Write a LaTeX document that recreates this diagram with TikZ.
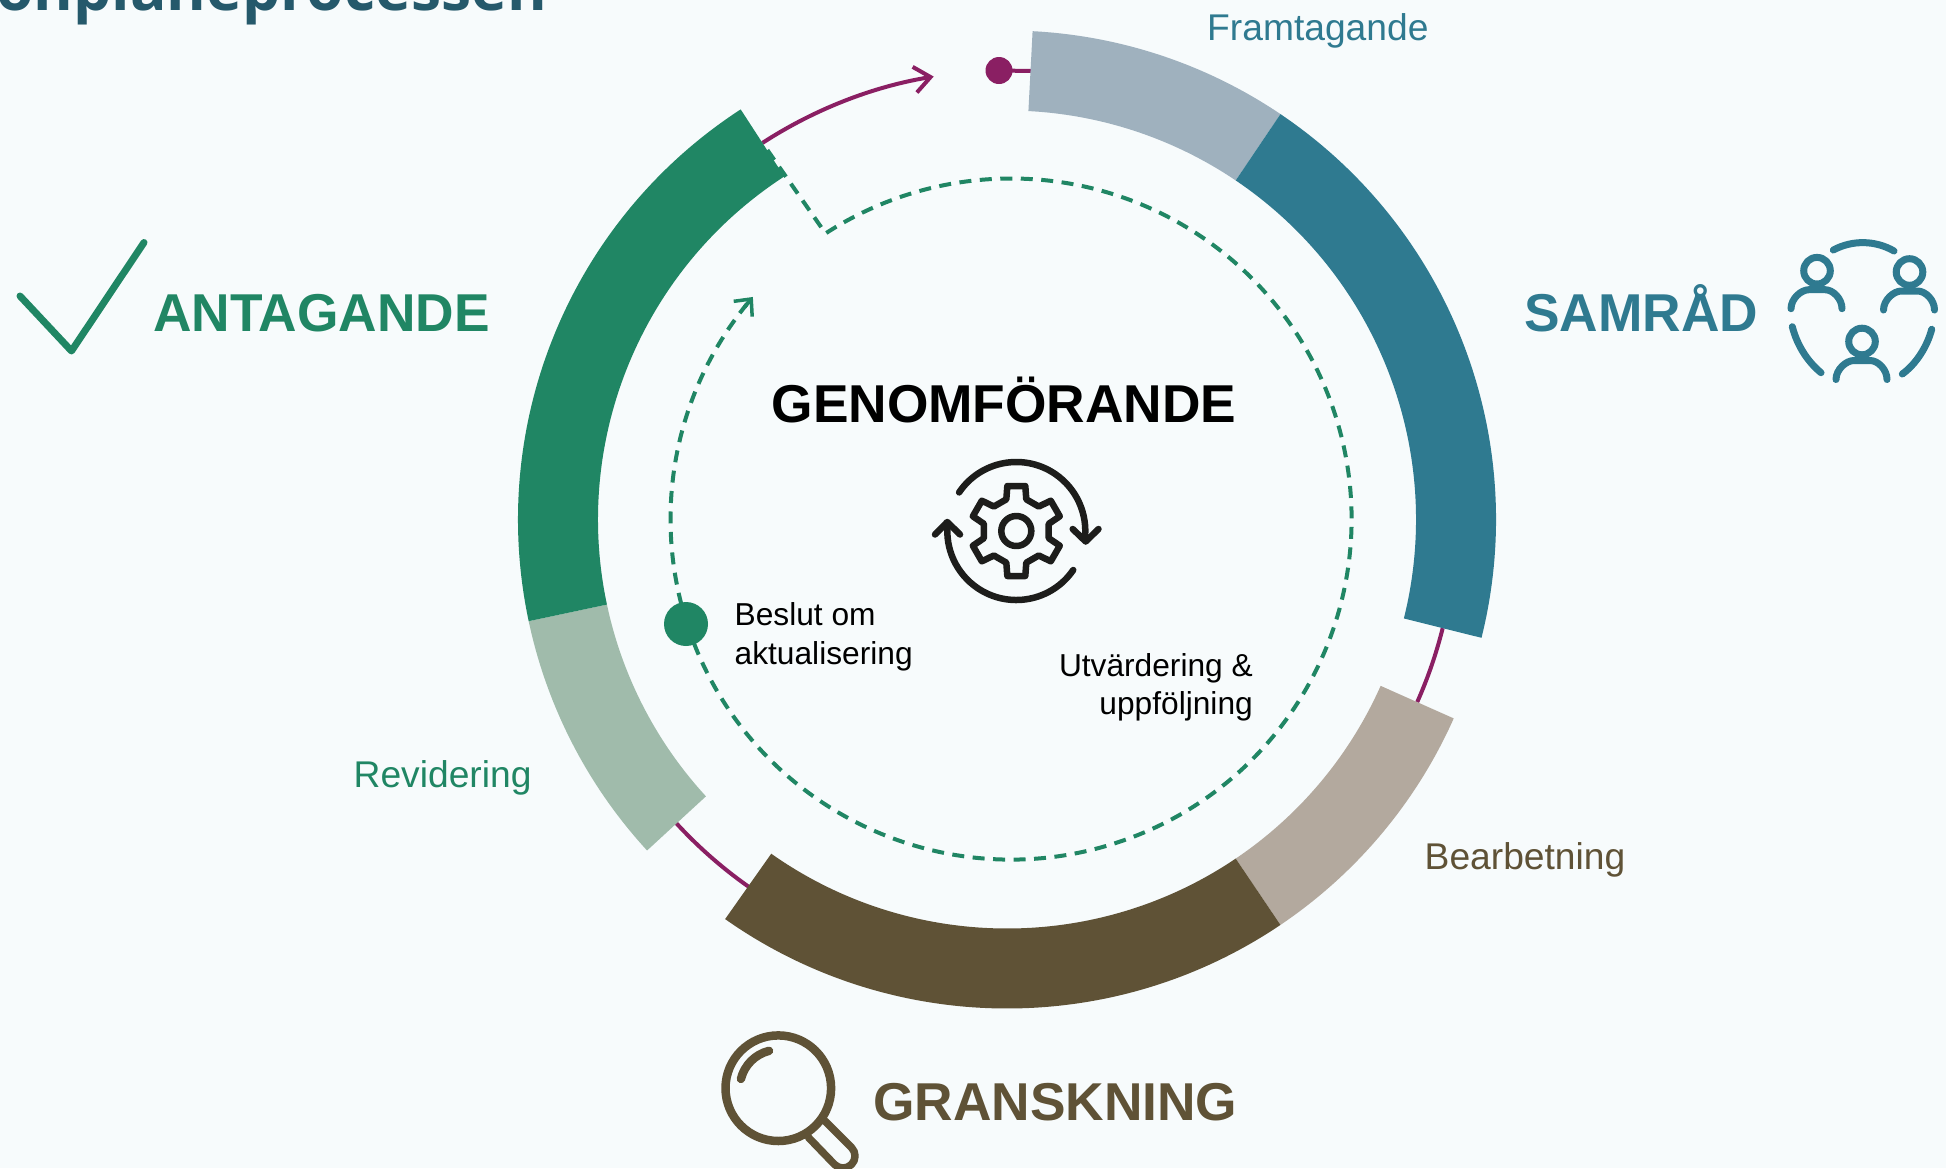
\documentclass[tikz,border=0pt]{standalone}
\usepackage{fontspec}
\setmainfont{Liberation Sans}
\newfontfamily\titlefont{Open Sans}
\usetikzlibrary{arrows.meta}
\definecolor{bgc}{HTML}{F7FBFC}
\definecolor{greenc}{HTML}{208664}
\definecolor{lgreenc}{HTML}{A0BBAB}
\definecolor{tealc}{HTML}{2F7A90}
\definecolor{lbluec}{HTML}{9FB1BE}
\definecolor{brownc}{HTML}{5F5236}
\definecolor{taupec}{HTML}{B3A99E}
\definecolor{purplec}{HTML}{8A1F63}
\definecolor{titlec}{HTML}{25596B}
\definecolor{gearc}{HTML}{1D1D1B}
\newcommand{\seg}[3]{\fill[#3] ([shift={(C)}]#1:489) arc[start angle=#1,end angle=#2,radius=489pt] -- ([shift={(C)}]#2:409) arc[start angle=#2,end angle=#1,radius=409pt] -- cycle;}
\newcommand{\person}[3]{%
 \draw[iconline,#1] (#2,#3) circle[radius=13.3pt];
 \draw[iconline,#1] (#2-26,#3-38) .. controls (#2-26,#3-28) and (#2-16,#3-19) .. (#2-8,#3-19) -- (#2+8,#3-19) .. controls (#2+16,#3-19) and (#2+25,#3-28) .. (#2+25,#3-38);}
\tikzset{
 x=1pt,y=1pt,
 big/.style={font=\bfseries\fontsize{53.3}{60}\selectfont,inner sep=0pt},
 mid/.style={font=\fontsize{37.2}{44}\selectfont,inner sep=0pt},
 small/.style={font=\fontsize{31.7}{38}\selectfont,inner sep=0pt},
 pline/.style={purplec,line width=4pt},
 gline/.style={greenc,line width=4pt,dash pattern=on 12pt off 8.5pt},
 iconline/.style={line width=7pt,line cap=round,line join=round},
 gearline/.style={gearc,line width=6.5pt,line cap=round,line join=round},
}
\begin{document}
\begin{tikzpicture}
\path[use as bounding box,fill=bgc] (0,0) rectangle (1946,-1168);
\coordinate (C) at (1007,-519.5);
\coordinate (D) at (1011,-519);
% title
\node[anchor=base east,inner sep=0pt,text=titlec,font=\titlefont\bfseries\fontsize{60.5}{70}\selectfont] (title) at (547,-10) {onplaneprocessen};
% purple
\draw[pline] ([shift={(C)}]-14:449) arc[start angle=-14,end angle=-24,radius=449pt];
\draw[pline] ([shift={(C)}]222.5:449) arc[start angle=222.5,end angle=235,radius=449pt];
\draw[pline,-{Straight Barb[length=16pt,width=26pt,line width=4pt]}] ([shift={(C)}]123:449) arc[start angle=123,end angle=99.4,radius=449pt];
\coordinate (pdot) at (999,-70.5);
\draw[pline] (pdot) -- (1032,-71);
\fill[purplec] (pdot) circle[radius=13.5pt];
% ring
\seg{87}{56}{lbluec}
\seg{56}{-14}{tealc}
\seg{-24}{-56}{taupec}
\seg{-56}{-125.2}{brownc}
\seg{222.6}{192}{lgreenc}
\seg{192}{123}{greenc}
% dashed
\draw[gline] ([shift={(D)}]198:340.5) arc[start angle=198,end angle=483,radius=340.5pt] -- ([shift={(C)}]123:449);
\draw[gline] ([shift={(D)}]198:340.5) arc[start angle=198,end angle=141,radius=340.5pt];
\path ([shift={(D)}]141.5:340.5) coordinate (tipa) ([shift={(D)}]139.3:340.5) coordinate (tipb);
\draw[greenc,line width=4pt,-{Straight Barb[length=13pt,width=24pt,line width=3.5pt]}] (tipa) -- (tipb);
\fill[greenc] (686,-624) coordinate (gdot) circle[radius=22pt];
% texts
\node[mid,anchor=base west,text=tealc] (t1) at (1207,-40) {Framtagande};
\node[big,anchor=base west,text=tealc] (t2) at (1524,-331.5) {SAMRÅD};
\node[big,anchor=base west,text=greenc] (t3) at (153,-331) {ANTAGANDE};
\node[big,anchor=base west,text=brownc] (t4) at (873,-1120.5) {GRANSKNING};
\node[mid,anchor=base west,text=brownc] (t5) at (1424.5,-869) {Bearbetning};
\node[mid,anchor=base west,text=greenc] (t6) at (353.5,-787) {Revidering};
\node[anchor=base,inner sep=0pt,font=\bfseries\fontsize{53.3}{60}\selectfont] (t7) at (1004,-422) {GENOMFÖRANDE};
\node[small,anchor=base west] (t8) at (734.5,-625.5) {Beslut om};
\node[small,anchor=base west] (t9) at (734.5,-664) {aktualisering};
\node[small,anchor=base east] (t10) at (1253,-676) {Utvärdering \&};
\node[small,anchor=base east] (t11) at (1253,-714.5) {uppföljning};
% check mark
\draw[greenc,line width=7pt,line cap=round,line join=round] (20,-296) -- (71.5,-351) -- (144,-242.5);
% people icon
\person{tealc}{1817}{-270.7}
\person{tealc}{1909.5}{-272}
\person{tealc}{1862}{-341.5}
\draw[iconline,tealc] (1833.3,-250) .. controls (1852,-240) and (1875,-240) .. (1894,-251);
\draw[iconline,tealc] (1792.3,-326.7) .. controls (1797,-345) and (1807,-361) .. (1821,-372.7);
\draw[iconline,tealc] (1931.7,-329.3) .. controls (1927,-347) and (1916,-364) .. (1902.3,-374);
% gear icon
\coordinate (G) at (1016.3,-531);
\draw[gearline] ([shift={(G)}]0:15) arc[start angle=0,end angle=360,radius=15pt];
\draw[gearline] ([shift={(G)}]107.5:33.2) -- ([shift={(G)}]101.3:45.9) -- ([shift={(G)}]78.7:45.9) -- ([shift={(G)}]72.5:33.2)
 -- ([shift={(G)}]47.5:33.2) -- ([shift={(G)}]41.3:45.9) -- ([shift={(G)}]18.7:45.9) -- ([shift={(G)}]12.5:33.2)
 -- ([shift={(G)}]-12.5:33.2) -- ([shift={(G)}]-18.7:45.9) -- ([shift={(G)}]-41.3:45.9) -- ([shift={(G)}]-47.5:33.2)
 -- ([shift={(G)}]-72.5:33.2) -- ([shift={(G)}]-78.7:45.9) -- ([shift={(G)}]-101.3:45.9) -- ([shift={(G)}]-107.5:33.2)
 -- ([shift={(G)}]-132.5:33.2) -- ([shift={(G)}]-138.7:45.9) -- ([shift={(G)}]-161.3:45.9) -- ([shift={(G)}]-167.5:33.2)
 -- ([shift={(G)}]167.5:33.2) -- ([shift={(G)}]161.3:45.9) -- ([shift={(G)}]138.7:45.9) -- ([shift={(G)}]132.5:33.2) -- cycle;
\draw[gearline] ([shift={(G)}]146:69) arc[start angle=146,end angle=-7,radius=69pt];
\draw[gearline] (1072.7,-529) -- (1085.7,-541.5) -- (1098.5,-529);
\draw[gearline] ([shift={(G)}]-34.4:69) arc[start angle=-34.4,end angle=-186,radius=69pt];
\draw[gearline] (935,-534.5) -- (947.3,-522) -- (960,-534.5);
% magnifier
\draw[brownc,line width=8.5pt] (778.3,-1088.2) circle[radius=52.8pt];
\draw[brownc,line width=8.5pt,line cap=round] ([shift={(778.3,-1088.2)}]166:38.5) arc[start angle=166,end angle=104,radius=38.5pt];
\draw[brownc,line width=7.5pt,line cap=round,line join=round] (825,-1121) -- (851.5,-1147.5) arc[start angle=45,end angle=-135,radius=12pt] -- (808.5,-1137.5);
\end{tikzpicture}
\end{document}
